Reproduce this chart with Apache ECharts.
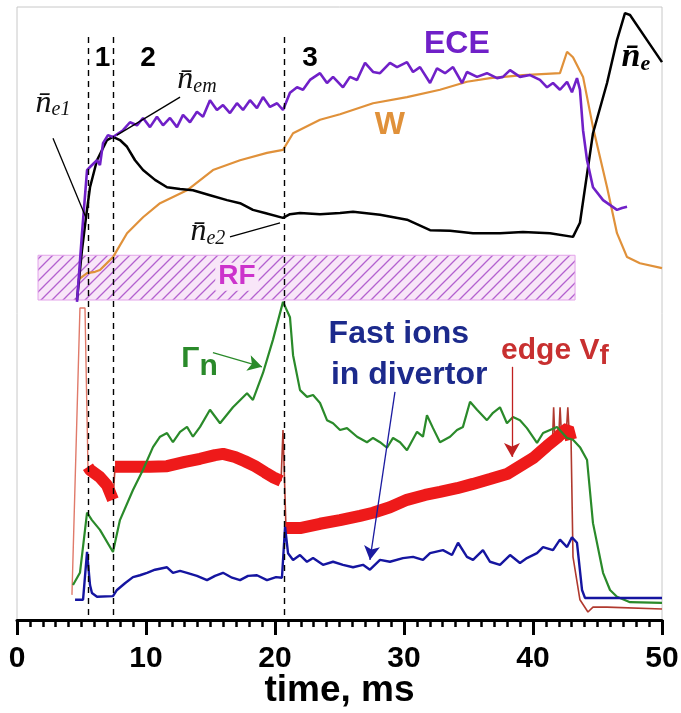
<!DOCTYPE html>
<html>
<head>
<meta charset="utf-8">
<script src="https://cdn.jsdelivr.net/npm/echarts@6/dist/echarts.min.js"></script>
<style>
  html, body { margin: 0; padding: 0; background: #fff; }
  #chart { width: 681px; height: 713px; }
</style>
</head>
<body>
<div id="chart"></div>
<script>
// time axis (ms) and signals in arbitrary units (0..100 of the panel height)
var eceTime = [4.65,5.04,5.43,5.66,6.2,6.43,6.67,7.05,7.44,8.22,8.76,9.3,9.77,10.31,10.85,11.32,11.86,12.4,12.87,13.41,13.95,14.42,14.96,15.5,15.97,16.51,17.05,17.52,18.06,18.6,19.07,19.61,20.16,20.62,21.16,21.71,22.17,22.71,23.49,24.03,24.5,25.27,25.81,26.36,26.98,27.6,28.14,28.91,29.46,30.23,30.7,31.24,32.02,32.56,33.18,33.8,34.5,34.88,35.66,36.43,37.21,37.67,38.22,38.99,39.77,40.54,41.09,41.55,42.09,42.64,43.02,43.41,43.64,43.88,44.19,44.65,45.43,46.51,46.9,47.29];
var eceSignal = [51.9,63.1,73.4,73.9,75.0,74.2,77.8,79.1,78.8,79.9,81.2,80.7,81.9,80.4,82.1,80.7,81.9,80.4,82.4,81.2,82.9,82.1,84.8,83.2,84.0,82.7,84.3,83.2,84.8,83.5,85.3,83.7,84.3,83.2,86.0,86.9,86.5,88.1,89.2,87.6,88.6,86.9,88.6,88.1,90.9,89.4,89.2,90.9,90.2,91.0,89.4,90.2,87.6,90.0,89.2,90.2,87.6,89.4,88.6,89.2,88.4,88.6,89.7,88.6,88.9,88.1,86.9,87.6,86.5,87.8,86.1,88.4,86.5,79.9,75.0,70.6,68.5,66.9,67.2,67.4];

var wTime = [4.73,5.43,6.05,6.43,7.44,8.53,9.77,11.09,13.18,15.19,17.29,19.38,20.62,21.4,23.49,25.04,27.6,30.23,32.79,34.88,36.67,39.22,42.09,42.64,43.1,43.88,44.65,45.74,46.51,47.29,48.29,50];
var wSignal = [55.5,56.6,56.8,57.1,59.2,63.1,65.7,68.0,70.1,73.4,75.0,76.2,76.7,79.4,81.6,82.5,84.3,85.3,86.5,87.8,88.4,88.9,89.2,92.7,91.8,88.6,80.4,70.6,63.1,59.2,58.2,57.4];

var neTime = [4.65,5.04,5.35,5.66,6.2,6.98,7.44,7.98,8.53,9.15,9.77,10.7,11.63,12.64,13.64,14.96,16.28,17.29,18.29,19.22,20.62,21.16,21.94,23.49,25.04,26.05,28.14,30.23,32.02,33.57,35.35,37.44,39.22,41.32,43.1,43.64,44.65,45.74,46.51,47.13,47.52,48.84,50];
var neSignal = [52.2,60.4,65.7,70.6,75.0,78.3,78.8,78.3,77.2,75.0,73.4,71.8,70.6,70.3,70.1,69.3,68.5,68.0,66.9,66.4,65.6,66.2,66.4,66.2,66.4,66.6,66.1,65.3,63.6,63.5,63.1,63.1,63.3,63.1,62.5,64.8,79.4,87.6,94.6,99.0,98.7,94.6,91.0];

var gammaTime = [4.34,4.88,5.43,5.81,6.43,7.44,7.98,8.99,9.77,10.54,11.09,11.63,12.09,12.64,13.18,13.64,14.19,14.96,15.74,16.74,17.83,18.29,19.07,19.84,20.62,21.16,21.4,21.94,22.48,22.95,23.49,24.03,24.5,25.04,25.58,26.36,27.13,27.6,28.14,28.68,29.15,29.69,30.23,31.01,31.47,31.78,32.25,32.79,33.57,34.11,34.57,35.12,35.66,36.43,36.9,37.44,37.98,38.45,38.99,39.53,40.31,40.78,41.32,41.86,42.64,43.1,43.64,44.19,44.65,45.43,45.97,46.51,47.52,50];
var gammaSignal = [5.7,7.7,17.5,16.3,14.7,11.1,16.3,21.2,24.5,28.2,29.9,30.5,29.0,30.7,31.5,29.9,31.5,34.3,32.1,34.7,37.0,35.9,40.3,45.7,51.9,49.4,43.2,37.5,36.4,36.7,35.4,32.6,32.1,31.0,31.3,29.9,29.0,29.7,29.0,28.1,29.7,29.0,27.7,30.7,29.9,33.4,31.3,29.0,29.9,31.0,31.5,35.6,34.3,32.6,33.8,34.7,32.1,33.1,32.6,31.3,28.9,30.5,31.0,31.5,29.7,29.4,28.2,26.1,15.8,7.7,4.9,3.8,2.9,2.8];

var ionsTime = [4.5,5.12,5.43,5.66,5.81,6.2,7.44,7.75,8.37,8.99,9.53,10.08,10.7,11.63,12.09,12.64,13.18,13.95,14.73,15.35,15.97,16.67,17.29,17.91,18.6,19.38,20.08,20.54,20.78,21.01,21.4,21.94,22.48,22.95,23.72,24.5,25.27,26.05,26.82,27.36,28.14,28.91,29.92,30.7,31.47,32.02,33.02,33.72,34.19,34.88,35.35,36.12,36.67,37.44,38.22,38.99,39.53,40.31,40.78,41.55,42.09,42.64,43.02,43.41,43.8,44.03,45.19,50];
var ionsSignal = [3.3,3.3,11.1,5.7,4.4,3.8,3.9,4.9,6.0,7.0,7.3,7.7,8.2,8.6,7.7,8.0,7.7,7.2,6.5,7.2,7.7,6.9,6.5,7.2,7.3,6.5,7.0,6.9,15.2,10.9,9.8,10.6,9.5,10.1,9.0,9.5,9.0,8.6,9.0,8.2,9.8,9.5,10.1,10.3,9.8,10.9,11.4,10.6,12.6,10.3,9.8,11.4,9.5,9.0,10.6,9.3,10.1,10.9,11.9,11.4,13.1,11.9,13.5,12.6,4.9,3.6,3.6,3.6];

// edge Vf: start-up spike, noisy band, tail after the termination
var vfSpikeTime = [4.26,4.88,5.27,5.5];
var vfSpikeSignal = [4.1,50.9,50.9,25.0];
var vfBandTime = [5.5,5.66,6.43,6.98,7.44,7.6,8.76,10.31,11.63,13.02,14.19,15.35,15.97,16.9,17.67,18.45,19.22,19.84,20.47,20.62,20.85,21.94,23.49,25.04,26.59,27.6,28.91,30.23,31.63,32.79,34.11,35.35,36.67,37.98,38.99,40.0,41.09,41.86,42.33,42.71,42.95];
var vfBandSignal = [25.0,24.5,23.3,22.0,19.6,25.0,25.0,25.0,25.1,25.8,26.3,26.9,27.1,26.6,25.9,25.1,24.1,23.3,22.7,31.0,15.0,15.0,15.7,16.3,17.0,17.5,18.4,19.6,20.4,20.9,21.5,22.2,23.0,23.8,25.1,26.4,28.4,29.7,30.7,31.3,29.4];
var vfTailTime = [41.5,41.6,41.7,42.0,42.1,42.2,42.6,42.7,42.8,42.95,43.1,43.64,44.26,44.65,45.74,50];
var vfTailSignal = [28.5,34.7,29.5,30.2,34.7,30.5,31.3,34.7,30.8,29.4,10.3,3.3,1.3,2.1,2.1,1.8];
// the noisy band is drawn thick between these jumps
var vfSegments = [[5.5, 7.44], [7.6, 20.47], [20.85, 42.95]];

var phaseTimes = [5.5, 7.45, 20.7];
var phaseNames = ['1', '2', '3'];
var rfWindow = [1.63, 43.26];
var xTicks = [0, 10, 20, 30, 40, 50];

function zip(t, v) {
  var res = [];
  for (var i = 0; i < t.length; i++) {
    res.push([t[i], v[i]]);
  }
  return res;
}

function between(points, range) {
  return points.filter(function (p) { return p[0] >= range[0] && p[0] <= range[1]; });
}

// diagonal hatch for the RF window
var hatch = document.createElement('canvas');
hatch.width = 11;
hatch.height = 11;
var hctx = hatch.getContext('2d');
hctx.fillStyle = '#f8e6f8';
hctx.fillRect(0, 0, 11, 11);
hctx.strokeStyle = '#b361cf';
hctx.lineWidth = 1.3;
hctx.beginPath();
hctx.moveTo(0, 11); hctx.lineTo(11, 0);
hctx.moveTo(-2, 2); hctx.lineTo(2, -2);
hctx.moveTo(9, 13); hctx.lineTo(13, 9);
hctx.stroke();

var SANS = "'Liberation Sans', Arial, sans-serif";
var SERIF = "'Liberation Serif', 'DejaVu Serif', serif";

function note(t, v, text, label) {
  var lab = { show: true, position: 'inside', formatter: text, fontFamily: SANS, fontWeight: 'bold' };
  for (var k in label) lab[k] = label[k];
  return { coord: [t, v], symbolSize: 0, label: lab };
}

function arrow(from, to, color, head) {
  return [
    { coord: from, symbol: 'none', lineStyle: { color: color } },
    { coord: to, symbol: head ? 'arrow' : 'none', symbolSize: head ? [12, 14] : 0 }
  ];
}

var nBar = 'n\u0304';
var serifRich = {
  n: { fontFamily: SERIF, fontStyle: 'italic', fontWeight: 'normal', fontSize: 32, color: '#111', lineHeight: 30 },
  s: { fontFamily: SERIF, fontStyle: 'italic', fontWeight: 'normal', fontSize: 20, color: '#111', padding: [14, 0, 0, 0], lineHeight: 20 }
};

var lineBase = { type: 'line', showSymbol: false, symbol: 'none', animation: false, silent: true, z: 3 };
function lineSeries(name, points, color, width, extra) {
  var s = { name: name, data: points, lineStyle: { color: color, width: width }, itemStyle: { color: color } };
  for (var k in lineBase) s[k] = lineBase[k];
  for (var k2 in extra) s[k2] = extra[k2];
  return s;
}

var vfBand = zip(vfBandTime, vfBandSignal);

option = {
  backgroundColor: '#fff',
  animation: false,
  grid: {
    left: 17, right: 19, top: 7, bottom: 93, show: true, borderColor: '#c8c8c8', borderWidth: 1,
    outerBoundsMode: 'none', containLabel: false
  },
  xAxis: {
    type: 'value', min: 0, max: 50, interval: 10,
    name: 'time, ms', nameLocation: 'middle', nameGap: 52, nameMoveOverlap: false,
    nameTextStyle: { fontFamily: SANS, fontWeight: 'bold', fontSize: 37, color: '#000' },
    axisLine: { show: true, onZero: false, lineStyle: { color: '#000', width: 3 } },
    axisTick: { show: true, length: 15, lineStyle: { color: '#000', width: 3 } },
    minorTick: { show: true, splitNumber: 10, length: 7, lineStyle: { color: '#000', width: 2.5 } },
    splitLine: { show: false },
    axisLabel: {
      margin: 24, fontFamily: SANS, fontWeight: 'bold', fontSize: 30, color: '#000',
      formatter: function (v) { return xTicks.indexOf(v) >= 0 ? String(v) : ''; }
    }
  },
  yAxis: { type: 'value', min: 0, max: 100, show: false },
  series: [
    {
      name: 'RF', type: 'line', data: [], silent: true, z: 1,
      markArea: {
        silent: true,
        itemStyle: { color: { image: hatch, repeat: 'repeat' }, borderColor: '#e3a3ea', borderWidth: 1 },
        label: { show: false },
        data: [[{ coord: [rfWindow[0], 59.5] }, { coord: [rfWindow[1], 52.2] }]]
      },
      markPoint: {
        silent: true, symbol: 'circle', symbolSize: 0,
        data: [note(17.05, 56.0, 'RF', { color: '#cc33cc', fontSize: 28, backgroundColor: '#f8e6f8', padding: [0, 3, 0, 3] })]
      }
    },
    lineSeries('Vf spike', zip(vfSpikeTime, vfSpikeSignal), '#e07a6a', 1.4),
    lineSeries('Vf tail', zip(vfTailTime, vfTailSignal), '#b0392e', 1.6),
    lineSeries('Vf', vfBand, '#b0392e', 1.6),
    lineSeries('Vf band 1', between(vfBand, vfSegments[0]), '#ee1a1a', 12),
    lineSeries('Vf band 2', between(vfBand, vfSegments[1]), '#ee1a1a', 12),
    lineSeries('Vf band 3', between(vfBand, vfSegments[2]), '#ee1a1a', 12),
    lineSeries('W', zip(wTime, wSignal), '#e0913a', 2.2),
    lineSeries('ne', zip(neTime, neSignal), '#000', 2.5),
    lineSeries('ECE', zip(eceTime, eceSignal), '#7020c8', 2.6),
    lineSeries('Gamma', zip(gammaTime, gammaSignal), '#2a8a2a', 2.2),
    lineSeries('ions', zip(ionsTime, ionsSignal), '#1515a0', 2.4),
    {
      name: 'marks', type: 'line', data: [], silent: true, z: 5,
      markLine: {
        silent: true, animation: false, label: { show: false },
        symbol: ['none', 'none'],
        lineStyle: { color: '#000', width: 1.3, type: 'solid' },
        data: phaseTimes.map(function (t) {
          return [
            { coord: [t, 95.1], lineStyle: { type: [6, 5], color: '#000', width: 1.4 } },
            { coord: [t, 0] }
          ];
        }).concat([
          arrow([2.79, 78.6], [5.35, 65.6], '#000', false),
          arrow([12.64, 85.3], [7.75, 79.1], '#000', false),
          arrow([16.51, 62.5], [20.39, 64.8], '#000', false),
          arrow([15.19, 43.6], [18.99, 41.3], '#2a8a2a', true),
          arrow([29.3, 37.2], [27.36, 9.8], '#1a1aa0', true),
          arrow([38.37, 41.3], [38.37, 26.6], '#c02020', true)
        ])
      },
      markPoint: {
        silent: true, symbol: 'circle', symbolSize: 0,
        data: phaseTimes.map(function (t, i) {
          var pos = [6.63, 10.16, 22.71];
          return note(pos[i], 91.7, phaseNames[i], { color: '#000', fontSize: 28 });
        }).concat([
          note(34.1, 94.0, 'ECE', { color: '#7020c8', fontSize: 32 }),
          note(28.9, 80.7, 'W', { color: '#e0913a', fontSize: 32 }),
          note(2.79, 84.3, '{n|' + nBar + '}{s|e1}', { rich: serifRich }),
          note(13.95, 88.1, '{n|' + nBar + '}{s|em}', { rich: serifRich }),
          note(14.8, 63.3, '{n|' + nBar + '}{s|e2}', { rich: serifRich }),
          note(47.98, 91.8, '{n|' + nBar + '}{s|e}', {
            rich: {
              n: { fontFamily: SERIF, fontStyle: 'italic', fontWeight: 'bold', fontSize: 34, color: '#000', lineHeight: 30 },
              s: { fontFamily: SERIF, fontStyle: 'italic', fontWeight: 'bold', fontSize: 22, color: '#000', padding: [14, 0, 0, 0], lineHeight: 20 }
            }
          }),
          note(14.15, 42.6, '{g|\u0393}{s|n}', {
            rich: {
              g: { fontFamily: SANS, fontWeight: 'bold', fontSize: 30, color: '#2a8a2a', lineHeight: 30 },
              s: { fontFamily: SANS, fontWeight: 'bold', fontSize: 30, color: '#2a8a2a', lineHeight: 30, padding: [16, 0, 0, 0] }
            }
          }),
          note(29.6, 46.6, 'Fast ions', { color: '#1c2a8c', fontSize: 32 }),
          note(30.4, 40.0, 'in divertor', { color: '#1c2a8c', fontSize: 32 }),
          note(41.7, 44.0, '{a|edge V}{s|f}', {
            rich: {
              a: { fontFamily: SANS, fontWeight: 'bold', fontSize: 30, color: '#c83030', lineHeight: 30 },
              s: { fontFamily: SANS, fontWeight: 'bold', fontSize: 28, color: '#c83030', lineHeight: 28, padding: [12, 0, 0, 0] }
            }
          })
        ])
      }
    }
  ]
};

var chart = echarts.init(document.getElementById('chart'), null, { renderer: 'canvas' });
chart.setOption(option);
</script>
</body>
</html>
